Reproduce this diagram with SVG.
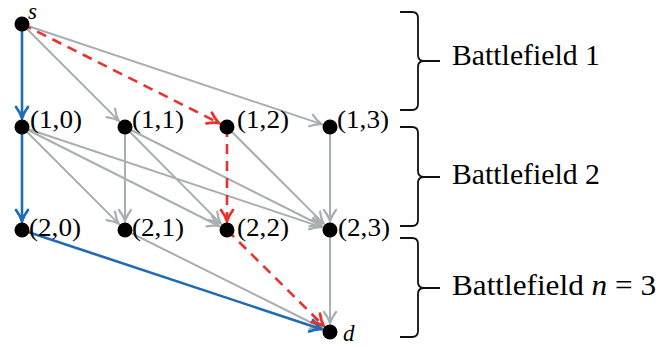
<svg xmlns="http://www.w3.org/2000/svg" width="659" height="347" viewBox="0 0 659 347">
<style>
.g{stroke:#a9aeb1;stroke-width:2;fill:none;marker-end:url(#ag)}
.b{stroke:#1f6cb5;stroke-width:2.6;fill:none;marker-end:url(#ab)}
.r{stroke:#e8332c;stroke-width:2.6;fill:none;stroke-dasharray:10 7;marker-end:url(#ar)}
.dot{fill:#000}
.lbl{font-family:"Liberation Serif",serif;font-size:26px;fill:#000}
.it{font-family:"Liberation Serif",serif;font-style:italic;font-size:23px;fill:#000}
.bf{font-family:"Liberation Serif",serif;font-size:29px;fill:#000}
.brace{stroke:#111;stroke-width:1.8;fill:none}
</style>
<defs>
<marker id="ag" markerUnits="userSpaceOnUse" viewBox="-12 -12 24 24" markerWidth="24" markerHeight="24" refX="0" refY="0" orient="auto" overflow="visible"><path d="M-11,-6 Q-5,-1.5 0,0 Q-5,1.5 -11,6" stroke="#a9aeb1" stroke-width="2.2" fill="none" stroke-dasharray="none" stroke-linecap="round"/></marker>
<marker id="ab" markerUnits="userSpaceOnUse" viewBox="-12 -12 24 24" markerWidth="24" markerHeight="24" refX="0" refY="0" orient="auto" overflow="visible"><path d="M-11,-6 Q-5,-1.5 0,0 Q-5,1.5 -11,6" stroke="#1f6cb5" stroke-width="2.8" fill="none" stroke-dasharray="none" stroke-linecap="round"/></marker>
<marker id="ar" markerUnits="userSpaceOnUse" viewBox="-12 -12 24 24" markerWidth="24" markerHeight="24" refX="0" refY="0" orient="auto" overflow="visible"><path d="M-11,-6 Q-5,-1.5 0,0 Q-5,1.5 -11,6" stroke="#e8332c" stroke-width="2.8" fill="none" stroke-dasharray="none" stroke-linecap="round"/></marker>
</defs>
<g id="connectors">
<line class="g" x1="22" y1="24" x2="118.6" y2="120.6"/>
<line class="g" x1="22" y1="24" x2="321.5" y2="124.1"/>
<line class="g" x1="22" y1="127" x2="118.6" y2="223.6"/>
<line class="g" x1="22" y1="127" x2="219" y2="226"/>
<line class="g" x1="22" y1="127" x2="321.5" y2="227.1"/>
<line class="g" x1="125" y1="127" x2="125" y2="221"/>
<line class="g" x1="125" y1="127" x2="220.7" y2="223.6"/>
<line class="g" x1="125" y1="127" x2="322" y2="226"/>
<line class="g" x1="227" y1="127" x2="323.6" y2="223.6"/>
<line class="g" x1="330" y1="127" x2="330" y2="221"/>
<line class="g" x1="125" y1="230" x2="321.9" y2="328"/>
<line class="g" x1="330" y1="230" x2="330" y2="323"/>
<line class="b" x1="22" y1="24" x2="22" y2="118"/>
<line class="b" x1="22" y1="127" x2="22" y2="221"/>
<line class="b" x1="22" y1="230" x2="321.5" y2="329.2"/>
<line class="r" x1="22" y1="24" x2="219" y2="123"/>
<line class="r" x1="227" y1="127" x2="227" y2="221"/>
<line class="r" x1="227" y1="230" x2="323.6" y2="325.7"/>
</g>
<g id="node-s"><circle class="dot" cx="22" cy="24" r="7.5"/><text class="it" x="28" y="19" font-size="20">s</text></g>
<g id="node-1-0"><circle class="dot" cx="22" cy="127" r="7.5"/><text class="lbl" x="30" y="128" textLength="52" lengthAdjust="spacingAndGlyphs">(1,0)</text></g>
<g id="node-1-1"><circle class="dot" cx="125" cy="127" r="7.5"/><text class="lbl" x="132" y="128" textLength="52" lengthAdjust="spacingAndGlyphs">(1,1)</text></g>
<g id="node-1-2"><circle class="dot" cx="227" cy="127" r="7.5"/><text class="lbl" x="237" y="128" textLength="52" lengthAdjust="spacingAndGlyphs">(1,2)</text></g>
<g id="node-1-3"><circle class="dot" cx="330" cy="127" r="7.5"/><text class="lbl" x="337" y="128" textLength="52" lengthAdjust="spacingAndGlyphs">(1,3)</text></g>
<g id="node-2-0"><circle class="dot" cx="22" cy="230" r="7.5"/><text class="lbl" x="29" y="236" textLength="52" lengthAdjust="spacingAndGlyphs">(2,0)</text></g>
<g id="node-2-1"><circle class="dot" cx="125" cy="230" r="7.5"/><text class="lbl" x="132" y="236" textLength="52" lengthAdjust="spacingAndGlyphs">(2,1)</text></g>
<g id="node-2-2"><circle class="dot" cx="227" cy="230" r="7.5"/><text class="lbl" x="237" y="236" textLength="52" lengthAdjust="spacingAndGlyphs">(2,2)</text></g>
<g id="node-2-3"><circle class="dot" cx="330" cy="230" r="7.5"/><text class="lbl" x="338" y="236" textLength="52" lengthAdjust="spacingAndGlyphs">(2,3)</text></g>
<g id="node-d"><circle class="dot" cx="330" cy="332" r="7.5"/><text class="it" x="343" y="341">d</text></g>
<g id="battlefield-1">
<path class="brace" d="M400,12 L412,12 Q418,12 418,18 L418,55 Q418,61 424,61 L440,61 M424,61 Q418,61 418,67 L418,104 Q418,110 412,110 L400,110"/>
<text class="bf" x="452" y="65" textLength="148" lengthAdjust="spacingAndGlyphs">Battlefield 1</text>
</g>
<g id="battlefield-2">
<path class="brace" d="M400,127 L412,127 Q418,127 418,133 L418,171 Q418,177 424,177 L440,177 M424,177 Q418,177 418,183 L418,220 Q418,226 412,226 L400,226"/>
<text class="bf" x="452" y="184" textLength="148" lengthAdjust="spacingAndGlyphs">Battlefield 2</text>
</g>
<g id="battlefield-3">
<path class="brace" d="M400,238 L412,238 Q418,238 418,244 L418,282 Q418,288 424,288 L440,288 M424,288 Q418,288 418,294 L418,331 Q418,337 412,337 L400,337"/>
<text class="bf" x="452" y="295" textLength="204" lengthAdjust="spacingAndGlyphs">Battlefield <tspan font-style="italic">n</tspan> = 3</text>
</g>
</svg>
